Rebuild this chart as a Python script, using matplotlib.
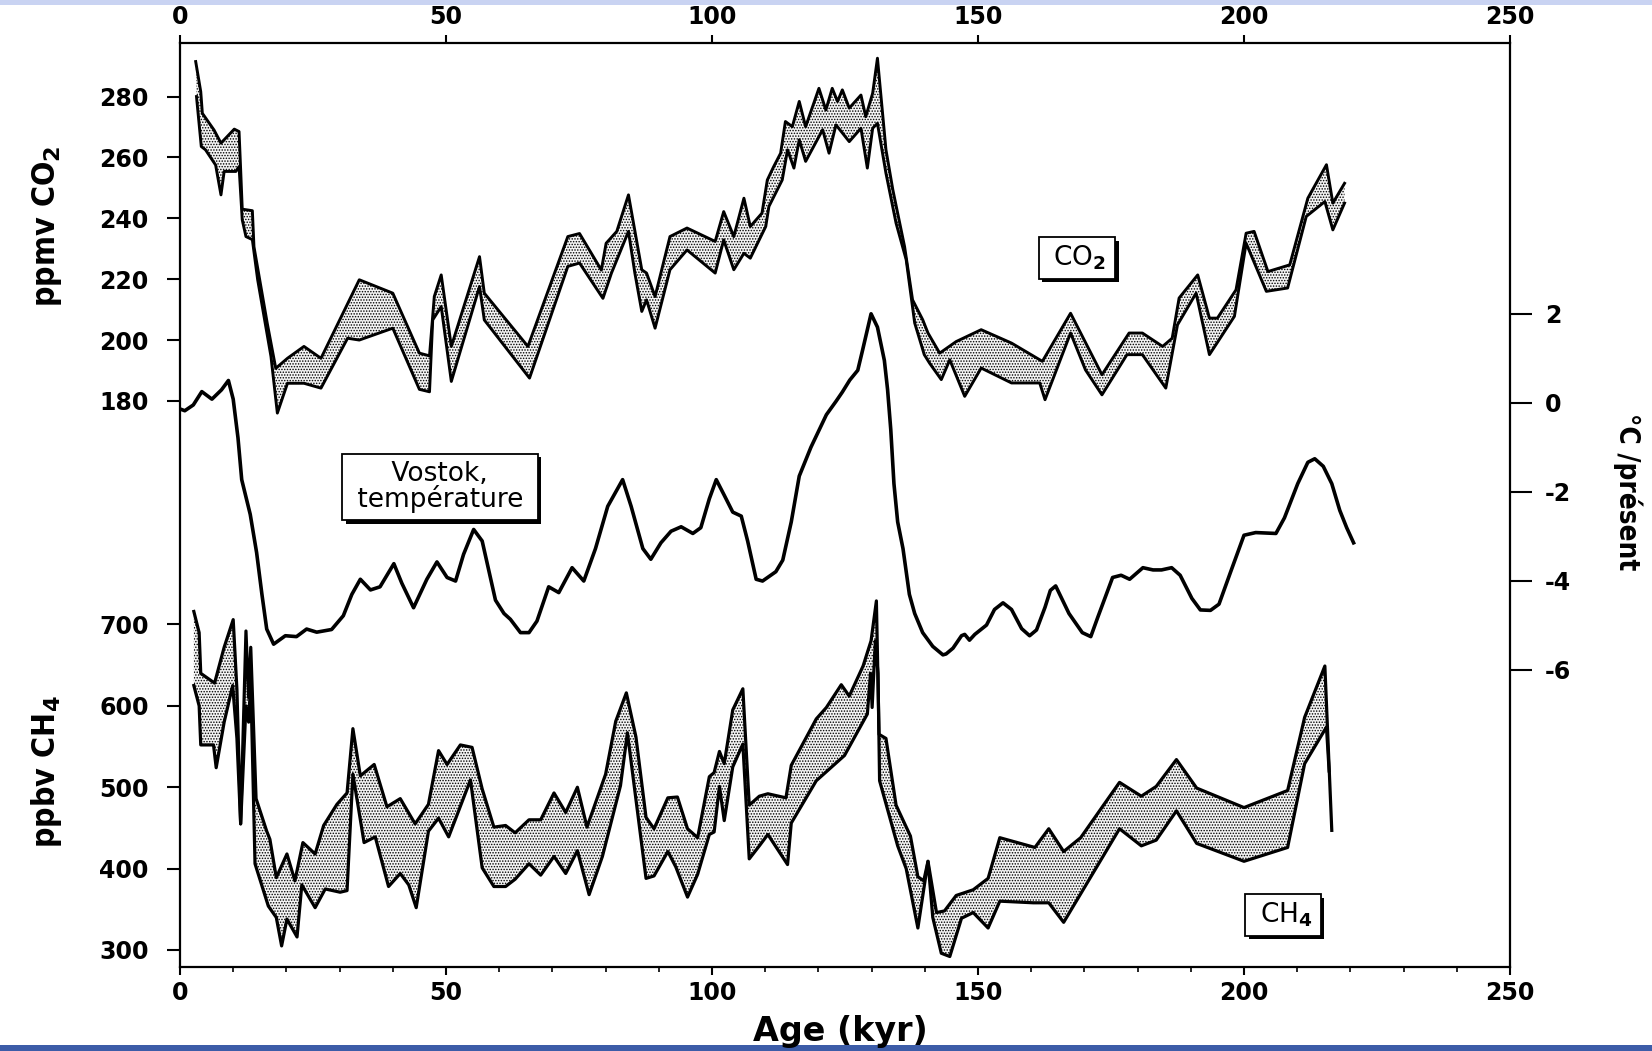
import matplotlib
matplotlib.use('Agg')
import matplotlib.pyplot as plt
import matplotlib.patheffects as pe
from matplotlib.patches import Rectangle
import numpy as np

# ---- CO2 envelope (ppmv) ----
co2_up_age = [2.95, 3.9, 4.2, 6.4, 7.7, 10.2, 11.1, 11.4, 11.7, 13.6, 13.9, 16.4, 18.0,
              20.2, 23.3, 26.5, 33.7, 40.0, 45.0, 46.9, 47.8, 49.1, 51.0, 56.3, 57.2,
              65.4, 72.9, 75.1, 79.2, 80.1, 82.1, 84.3, 86.8, 87.7, 89.3, 92.1, 95.3,
              100.6, 102.2, 104.1, 106.0, 107.2, 109.4, 110.4, 111.6, 112.9, 113.8,
              115.1, 116.4, 117.6, 120.1, 121.4, 122.6, 123.6, 124.5, 125.8, 128.0,
              128.9, 130.2, 131.1, 132.7, 134.0, 136.2, 137.7, 139.6, 140.6, 142.8,
              145.9, 150.6, 156.3, 162.1, 167.4, 173.3, 178.4, 180.9, 184.7, 186.5,
              187.8, 191.3, 193.5, 195.0, 198.5, 200.4, 201.9, 204.5, 208.6, 212.0,
              215.5, 216.7, 218.9]
co2_up = [291.5, 281.6, 274.5, 269.0, 264.7, 269.3, 268.5, 256.0, 243.0, 242.5, 230.7,
          205.5, 190.7, 194.0, 197.9, 194.0, 219.8, 215.4, 195.7, 194.8, 214.3, 221.4,
          197.9, 227.4, 215.4, 197.9, 234.0, 235.0, 223.0, 231.8, 235.7, 247.7, 223.1,
          222.0, 214.3, 234.0, 236.8, 232.4, 242.2, 234.0, 246.6, 237.3, 241.7, 252.6,
          257.0, 261.4, 271.8, 270.1, 278.4, 270.1, 282.7, 275.6, 282.7, 278.4, 282.2,
          276.2, 280.5, 273.4, 281.1, 292.6, 262.5, 249.3, 230.7, 213.2, 206.7, 202.3,
          195.7, 199.5, 203.4, 199.0, 193.0, 208.8, 188.6, 202.3, 202.3, 197.9, 200.6,
          213.8, 221.4, 207.2, 207.2, 216.5, 235.1, 235.7, 222.5, 224.7, 246.6, 257.6,
          245.0, 251.5]
co2_lo_age = [3.1, 4.0, 4.8, 6.7, 7.7, 8.3, 10.5, 11.1, 11.7, 12.4, 13.6, 14.6, 17.1,
              18.3, 20.2, 23.3, 26.5, 31.5, 33.7, 40.0, 45.0, 46.9, 47.5, 49.1, 51.0,
              56.3, 57.2, 65.7, 72.9, 75.1, 79.5, 81.1, 84.3, 85.5, 86.8, 87.7, 89.3,
              92.1, 95.3, 100.6, 102.2, 104.1, 106.0, 107.2, 110.1, 110.7, 113.2, 114.2,
              115.4, 116.4, 117.6, 120.8, 122.0, 123.3, 125.8, 128.0, 129.2, 130.2,
              131.1, 132.7, 134.6, 136.5, 138.1, 139.9, 140.9, 143.1, 144.7, 147.5,
              150.6, 156.3, 161.6, 162.6, 167.4, 170.2, 173.3, 178.0, 180.9, 185.3,
              187.5, 191.0, 193.5, 198.2, 200.4, 204.2, 208.2, 211.7, 215.2, 216.7, 218.9]
co2_lo = [280.0, 263.6, 262.5, 257.5, 247.7, 255.4, 255.4, 257.0, 239.5, 234.0, 233.0,
          219.8, 194.6, 176.0, 185.8, 185.8, 184.2, 200.6, 200.0, 203.9, 183.8, 183.0,
          206.6, 211.0, 186.4, 217.6, 206.6, 187.5, 224.2, 225.3, 213.7, 222.0, 235.7,
          222.0, 209.4, 213.2, 203.9, 223.1, 229.6, 222.0, 232.9, 223.1, 228.5, 226.9,
          237.3, 243.9, 252.6, 262.5, 256.5, 265.8, 258.7, 269.1, 261.4, 270.7, 265.2,
          269.6, 256.5, 269.6, 271.2, 254.8, 238.4, 226.4, 205.6, 195.2, 192.4, 187.0,
          193.5, 181.5, 190.8, 185.9, 185.9, 180.4, 202.3, 190.2, 182.0, 195.2, 195.2,
          184.2, 205.0, 215.4, 195.2, 207.8, 231.8, 216.0, 217.1, 240.6, 245.5, 236.2,
          245.0]

# ---- Vostok temperature (deg C relative to present) ----
temp_age = [0.0, 0.9, 2.5, 4.1, 6.0, 7.8, 9.1, 10.0, 10.9, 11.6, 13.2, 14.4, 15.4, 16.3,
            17.6, 19.8, 21.9, 23.8, 25.7, 28.5, 30.7, 32.3, 33.9, 35.8, 37.6, 40.2, 41.7,
            43.9, 46.4, 48.3, 50.2, 51.8, 53.3, 55.2, 56.8, 59.3, 60.9, 62.1, 64.0, 65.6,
            67.1, 69.3, 71.2, 73.7, 75.9, 78.1, 80.4, 83.2, 84.8, 87.0, 88.5, 90.4, 92.3,
            94.2, 96.4, 97.9, 99.5, 100.8, 102.3, 103.9, 105.5, 106.7, 108.3, 109.5,
            112.0, 113.3, 114.9, 116.4, 118.6, 121.5, 123.3, 124.5, 125.9, 127.4, 128.3,
            129.9, 131.1, 132.4, 133.0, 133.6, 134.2, 134.9, 135.9, 137.1, 138.1, 139.6,
            141.5, 143.4, 144.0, 145.3, 146.9, 147.5, 148.4, 149.4, 151.6, 153.1, 154.7,
            156.3, 158.2, 159.7, 161.0, 162.6, 163.6, 164.6, 167.1, 169.6, 171.2, 172.5,
            175.3, 176.9, 178.5, 181.0, 182.9, 184.5, 186.4, 188.0, 190.2, 191.8, 193.7,
            195.3, 197.5, 200.0, 202.2, 206.0, 207.6, 210.1, 212.0, 213.3, 214.9, 216.5,
            218.0, 219.3, 220.6]
temp = [-0.14, -0.18, -0.05, 0.25, 0.08, 0.29, 0.50, 0.08, -0.79, -1.73, -2.51, -3.37,
        -4.31, -5.09, -5.43, -5.24, -5.26, -5.09, -5.16, -5.10, -4.79, -4.31, -3.97,
        -4.21, -4.14, -3.62, -4.06, -4.61, -3.97, -3.58, -3.93, -4.01, -3.41, -2.85,
        -3.11, -4.44, -4.74, -4.87, -5.17, -5.17, -4.91, -4.14, -4.27, -3.71, -4.01,
        -3.28, -2.33, -1.73, -2.33, -3.28, -3.52, -3.15, -2.89, -2.79, -2.94, -2.81,
        -2.16, -1.73, -2.08, -2.46, -2.55, -3.11, -3.97, -4.01, -3.80, -3.54, -2.68,
        -1.65, -1.00, -0.27, 0.03, 0.24, 0.51, 0.73, 1.18, 2.00, 1.70, 0.95, 0.30,
        -0.60, -1.82, -2.68, -3.28, -4.31, -4.74, -5.17, -5.48, -5.67, -5.65, -5.52,
        -5.24, -5.21, -5.34, -5.21, -5.00, -4.65, -4.50, -4.65, -5.08, -5.24, -5.11,
        -4.60, -4.22, -4.12, -4.74, -5.17, -5.26, -4.83, -3.93, -3.88, -3.97, -3.71,
        -3.76, -3.76, -3.71, -3.88, -4.40, -4.66, -4.67, -4.53, -3.80, -2.98, -2.92,
        -2.94, -2.59, -1.82, -1.34, -1.26, -1.43, -1.82, -2.42, -2.81, -3.15]

# ---- CH4 envelope (ppbv) ----
ch4_up_age = [2.6, 3.6, 3.9, 6.5, 8.3, 10.0, 10.7, 11.4, 12.4, 12.9, 13.3, 14.3, 16.3,
              16.9, 18.1, 20.1, 21.6, 23.1, 25.4, 27.0, 29.5, 31.4, 32.5, 33.9, 36.5,
              38.9, 41.4, 44.2, 46.7, 48.6, 50.2, 52.7, 54.9, 56.8, 59.0, 61.2, 63.0,
              65.6, 67.8, 70.3, 72.5, 74.7, 76.5, 80.0, 81.9, 83.9, 85.7, 87.6, 89.1,
              91.7, 93.5, 95.4, 97.3, 99.5, 100.4, 101.4, 102.3, 103.9, 105.8, 107.0,
              108.9, 110.5, 113.9, 114.9, 119.6, 121.5, 124.3, 125.8, 128.4, 129.9,
              130.9, 131.4, 132.7, 134.6, 137.3, 138.7, 139.8, 140.6, 142.2, 143.7,
              145.9, 149.1, 151.9, 154.1, 160.7, 163.3, 166.1, 169.3, 176.6, 180.7,
              183.5, 187.3, 191.1, 200.0, 208.2, 211.4, 215.2, 216.5]
ch4_up = [716, 690, 640, 628, 672, 706, 620, 455, 692, 610, 672, 486, 446, 436, 389, 418,
          385, 432, 418, 453, 479, 493, 572, 514, 528, 476, 486, 455, 479, 545, 528, 552,
          549, 498, 451, 453, 444, 460, 460, 493, 469, 500, 451, 516, 581, 616, 562, 463,
          449, 487, 488, 449, 438, 513, 518, 544, 529, 595, 621, 478, 489, 492, 487, 527,
          584, 598, 626, 612, 649, 680, 729, 565, 560, 478, 440, 390, 385, 409, 346, 348,
          367, 374, 388, 438, 426, 449, 421, 438, 506, 489, 501, 534, 499, 475, 496, 586,
          649, 447]
ch4_lo_age = [2.6, 3.6, 3.9, 6.3, 6.8, 8.3, 9.9, 10.7, 11.4, 12.4, 12.9, 13.3, 14.1, 16.6,
              18.1, 19.1, 20.1, 22.0, 22.9, 25.4, 27.3, 30.1, 31.4, 32.5, 34.6, 36.7,
              39.2, 41.4, 43.0, 44.4, 46.7, 48.6, 50.5, 54.6, 56.8, 59.0, 61.2, 63.0,
              65.6, 67.8, 70.3, 72.5, 74.7, 76.9, 79.4, 82.8, 84.1, 87.6, 89.1, 91.7,
              93.2, 95.4, 97.3, 99.5, 100.4, 101.4, 102.3, 103.9, 105.8, 107.0, 108.9,
              110.5, 114.2, 114.9, 119.6, 124.9, 129.2, 129.8, 130.1, 130.7, 131.2,
              131.5, 134.9, 136.5, 138.7, 140.6, 141.5, 143.1, 144.7, 146.9, 149.1,
              151.9, 154.1, 160.4, 163.3, 166.1, 176.6, 180.7, 183.5, 187.3, 191.1,
              200.0, 208.2, 211.4, 215.5, 216.0]
ch4_lo = [625, 600, 552, 552, 524, 580, 625, 560, 455, 600, 580, 630, 406, 354, 340, 305,
          338, 316, 380, 352, 375, 371, 373, 516, 432, 439, 378, 394, 380, 352, 446, 462,
          439, 509, 401, 378, 378, 387, 406, 392, 415, 394, 422, 368, 415, 502, 567, 388,
          391, 421, 402, 365, 393, 442, 445, 501, 459, 525, 553, 412, 428, 442, 405, 456,
          508, 539, 590, 640, 598, 680, 640, 508, 428, 400, 327, 409, 340, 296, 292, 339,
          346, 327, 360, 358, 358, 334, 449, 428, 435, 471, 431, 409, 426, 529, 574, 520]

co2_ticks = [180, 200, 220, 240, 260, 280]
ch4_ticks = [300, 400, 500, 600, 700]
temp_ticks = [-6, -4, -2, 0, 2]
age_ticks = [0, 50, 100, 150, 200, 250]

W, H = 1652, 1051
plt.rcParams['font.family'] = ['DejaVu Sans']
plt.rcParams['font.weight'] = 'bold'
plt.rcParams['axes.unicode_minus'] = False
plt.rcParams['hatch.linewidth'] = 0.7
plt.rcParams['hatch.color'] = 'black'
narrow = ['Liberation Sans Narrow', 'DejaVu Sans']

fig = plt.figure(figsize=(W / 100, H / 100), dpi=100)
fig.patch.set_facecolor('white')
# blue strips of the slide around the scan
fig.add_artist(Rectangle((0, 1 - 5 / H), 1, 5 / H, transform=fig.transFigure,
                         facecolor='#c9d3f2', edgecolor='none'))
fig.add_artist(Rectangle((0, 0), 1, 6 / H, transform=fig.transFigure,
                         facecolor='#3c5ca8', edgecolor='none'))

left, right, top, bottom = 180, 1510, 43, 967
rect = [left / W, 1 - bottom / H, (right - left) / W, (bottom - top) / H]
ax = fig.add_axes(rect)
ax_ch4 = ax.twinx()
ax_t = ax.twinx()

ax.set_xlim(0, 250)
ax.set_ylim(-6.0, 297.6)
ax_ch4.set_ylim(279.1, 1414.6)
ax_t.set_ylim(-12.69, 8.09)


def band(a, xu, yu, xl, yl, lw):
    xs = np.concatenate([xu, xl[::-1]])
    ys = np.concatenate([yu, yl[::-1]])
    a.fill(xs, ys, facecolor='#f4f4f4', edgecolor='black', linewidth=0,
           hatch='......', zorder=1)
    a.plot(xu, yu, color='black', lw=lw, zorder=2)
    a.plot(xl, yl, color='black', lw=lw, zorder=2)


band(ax, np.array(co2_up_age), np.array(co2_up), np.array(co2_lo_age), np.array(co2_lo), 2.1)
band(ax_ch4, np.array(ch4_up_age), np.array(ch4_up), np.array(ch4_lo_age), np.array(ch4_lo), 2.3)
ax_t.plot(temp_age, temp, color='black', lw=2.6)

# frame
for s in ax.spines.values():
    s.set_linewidth(1.6)
for a in (ax_ch4, ax_t):
    for s in a.spines.values():
        s.set_visible(False)

ax.set_xticks(age_ticks)
ax.set_xticks(np.arange(0, 251, 10), minor=True)
ax.tick_params(axis='x', which='major', direction='out', length=6, width=1.5,
               labelsize=17, pad=4, top=True, labeltop=True)
ax.tick_params(axis='x', which='minor', direction='out', length=3.5, width=1.2,
               top=False)

ax.set_yticks(co2_ticks)
ax.tick_params(axis='y', direction='out', length=9.5, width=1.5, labelsize=17, pad=13,
               right=False)
ax_ch4.yaxis.set_ticks_position('left')
ax_ch4.set_yticks(ch4_ticks)
ax_ch4.tick_params(axis='y', direction='out', length=9.5, width=1.5, labelsize=17, pad=13)
ax_t.set_yticks(temp_ticks)
ax_t.tick_params(axis='y', direction='out', length=16, width=1.5, labelsize=17, pad=9)

# axis titles
fig.text(47 / W, 1 - 226 / H, 'ppmv CO$_2$', rotation=90, ha='center', va='center',
         fontsize=23, family=narrow, weight='bold', stretch='condensed')
fig.text(47 / W, 1 - 772 / H, 'ppbv CH$_4$', rotation=90, ha='center', va='center',
         fontsize=23, family=narrow, weight='bold', stretch='condensed')
fig.text(1628 / W, 1 - 492 / H, '°C /présent', rotation=-90, ha='center', va='center',
         fontsize=20, family=narrow, weight='bold', stretch='condensed')
fig.text(840 / W, 1 - 1031 / H, 'Age (kyr)', ha='center', va='center',
         fontsize=24, weight='bold')

# boxed captions
shadow = [pe.SimplePatchShadow(offset=(2.5, -2.5), shadow_rgbFace='black', alpha=1),
          pe.Normal()]
box = dict(boxstyle='square,pad=0.25', facecolor='white', edgecolor='black', linewidth=1.3)
for txt, x, y in [(' CO$_2$ ', 1077, 258), (' Vostok, \n température ', 440, 487),
                  (' CH$_4$ ', 1283, 915)]:
    t = fig.text(x / W, 1 - y / H, txt, ha='center', va='center', fontsize=19,
                 weight='normal', linespacing=0.95, bbox=box, zorder=5)
    t.get_bbox_patch().set_path_effects(shadow)

fig.savefig('out.png', dpi=100)
